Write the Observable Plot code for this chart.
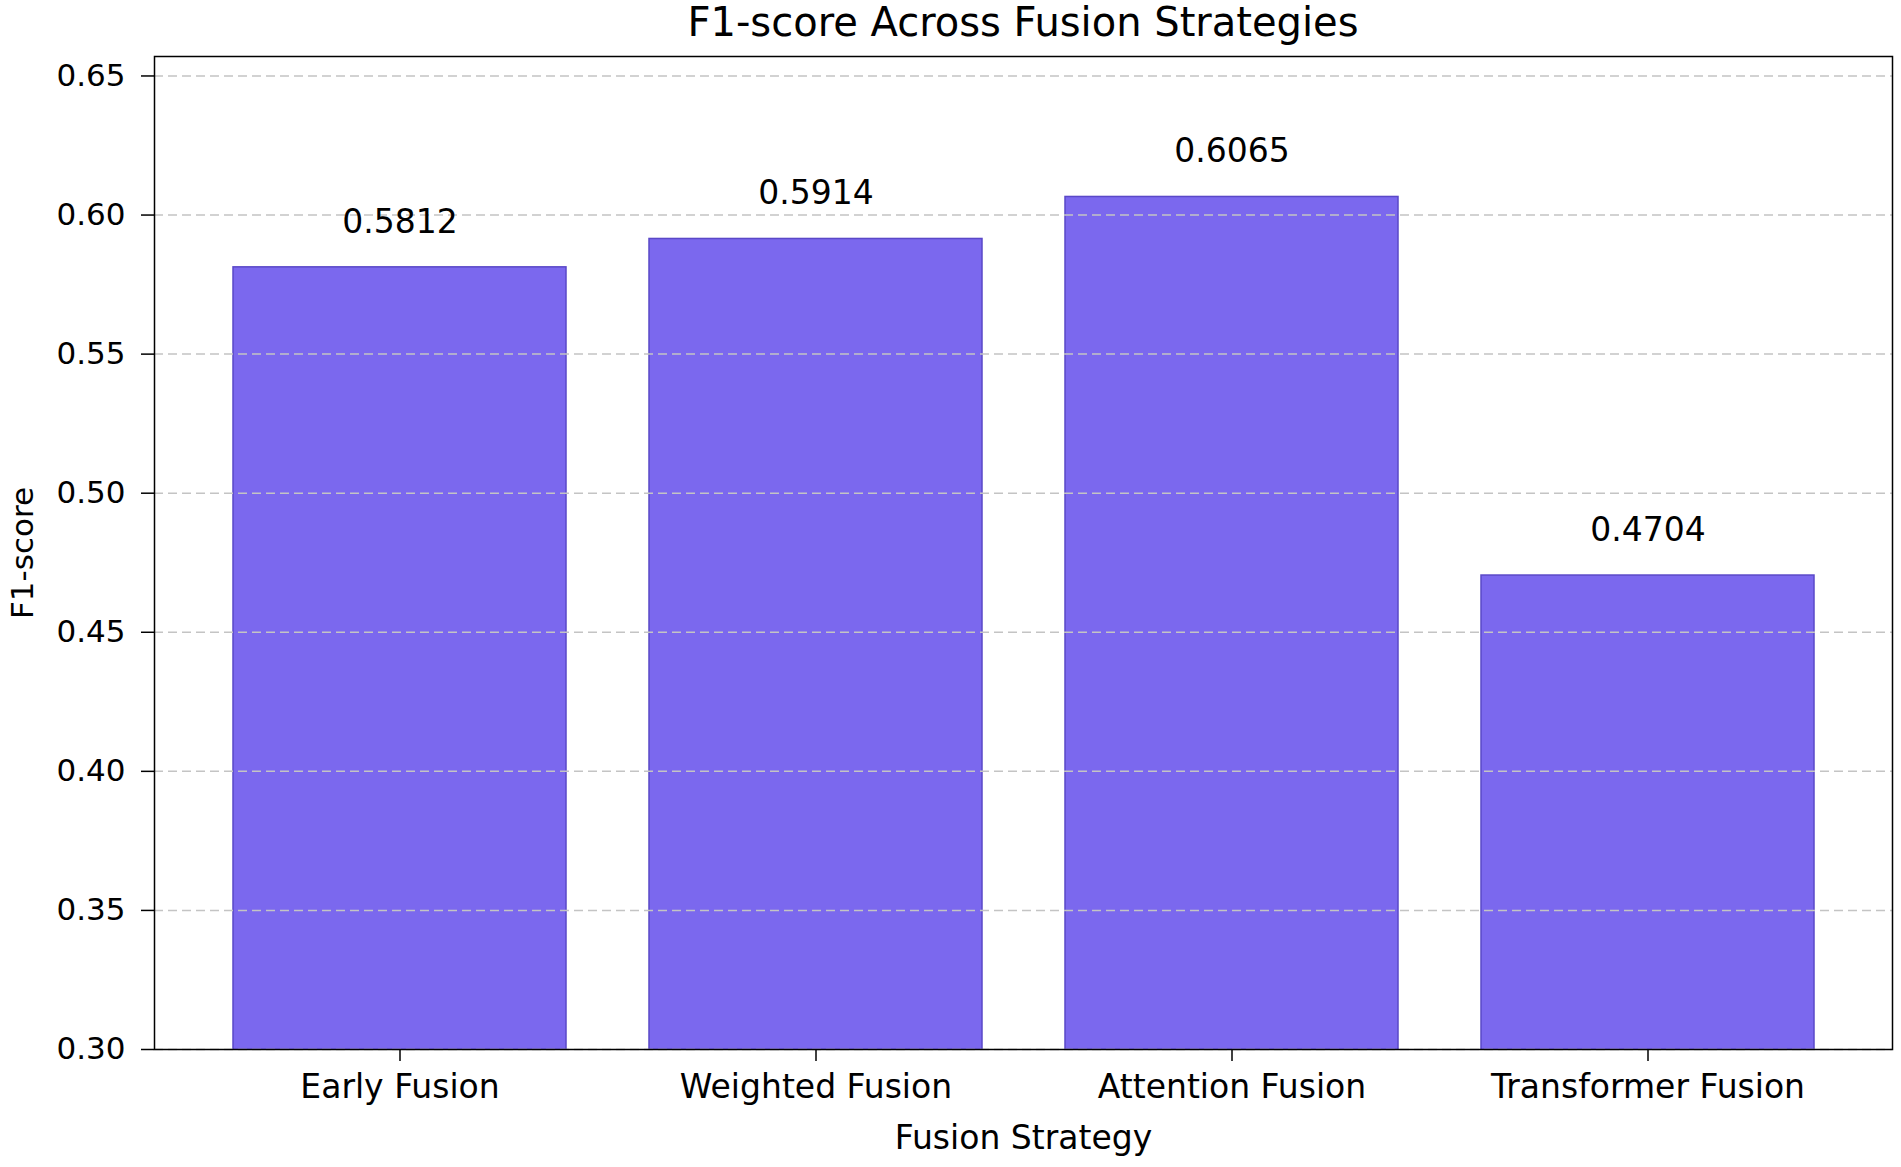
<!DOCTYPE html>
<html>
<head>
<meta charset="utf-8">
<script src="https://cdn.jsdelivr.net/npm/d3@7"></script>
<script src="https://cdn.jsdelivr.net/npm/@observablehq/plot@0.6"></script>
<style>
  html, body { margin: 0; padding: 0; background: white; }
  body { width: 1901px; height: 1167px; overflow: hidden; font-family: "DejaVu Sans", sans-serif; }
  #title { height: 44px; line-height: 44px; font-size: 40px; color: black; text-align: center;
           width: 1738px; margin-left: 154px; white-space: nowrap; }
  svg { display: block; }
</style>
</head>
<body>
<div id="title">F1-score Across Fusion Strategies</div>
<div id="chart"></div>
<script>
const strategies = ["Early Fusion", "Weighted Fusion", "Attention Fusion", "Transformer Fusion"];
const f1Scores = [0.5812, 0.5914, 0.6065, 0.4704];
const yTicks = [0.30, 0.35, 0.40, 0.45, 0.50, 0.55, 0.60, 0.65];
const yDomain = [0.30, 0.657];
const labelOffsetValue = 0.01;

const data = strategies.map((s, i) => ({strategy: s, value: f1Scores[i]}));

const chart = Plot.plot({
  width: 1901,
  height: 1123,
  marginLeft: 154,
  marginRight: 9,
  marginTop: 12,
  marginBottom: 118,
  style: {fontFamily: "DejaVu Sans", color: "black", background: "white"},
  x: {domain: strategies, paddingInner: 0.2, paddingOuter: 0.187},
  y: {domain: yDomain},
  marks: [
    Plot.barY(data, {x: "strategy", y: "value", fill: "#7B68EE", stroke: "#5a48c8", strokeWidth: 1.5, clip: true}),
    Plot.gridY(yTicks, {stroke: "#c4c4c4", strokeOpacity: 1, strokeWidth: 1.5, strokeDasharray: "9,5"}),
    Plot.text(data, {
      x: "strategy",
      y: d => d.value + labelOffsetValue,
      text: d => d3.format(".4f")(d.value),
      fontSize: 33,
      lineAnchor: "bottom",
      dy: -7,
      fill: "black"
    }),
    Plot.axisY({
      ticks: yTicks,
      tickFormat: d3.format(".2f"),
      tickSize: 13,
      tickPadding: 16,
      fontSize: 31,
      strokeWidth: 1.5,
      label: "F1-score",
      labelAnchor: "center",
      labelArrow: "none",
      labelOffset: 144
    }),
    Plot.axisX({
      tickSize: 12,
      tickPadding: 13,
      fontSize: 33,
      strokeWidth: 1.5,
      label: "Fusion Strategy",
      labelAnchor: "center",
      labelArrow: "none",
      labelOffset: 99
    }),
    Plot.frame({stroke: "black", strokeWidth: 1.5})
  ]
});
document.getElementById("chart").appendChild(chart);
</script>
</body>
</html>
